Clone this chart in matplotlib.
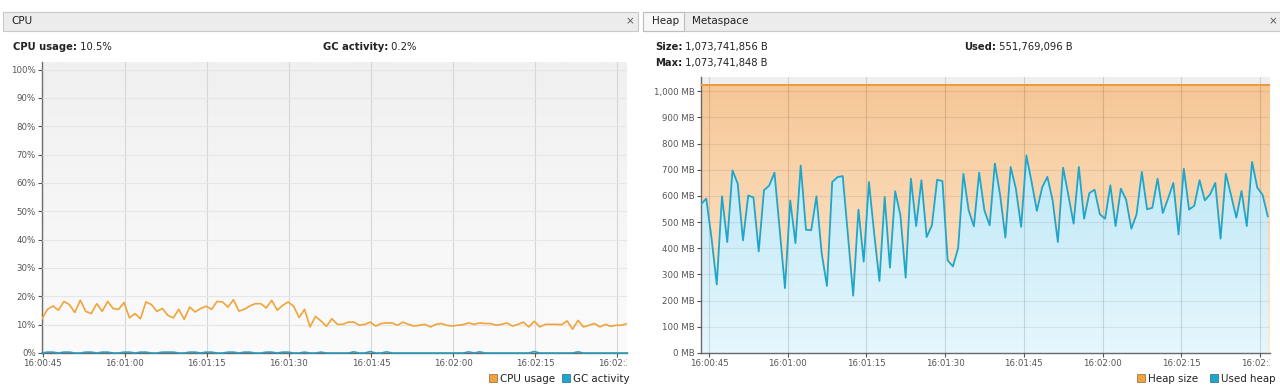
import numpy as np
import matplotlib
matplotlib.use('Agg')
import matplotlib.pyplot as plt
from matplotlib.colors import LinearSegmentedColormap
from matplotlib.patches import Rectangle
from matplotlib.ticker import FixedLocator, FuncFormatter
from matplotlib.transforms import Bbox, TransformedBbox

cpu_start = 44.87      # segundos depois de 16:00:00
heap_start = 43.48

cpu_usage = [
    12.1, 15.4, 16.6, 15.1, 18.2, 17.1, 14.3, 18.6, 14.7, 13.9,
    17.4, 14.7, 18.2, 15.7, 15.4, 17.8, 12.4, 13.9, 12.1, 18.0,
    17.1, 14.7, 15.7, 13.3, 12.4, 15.4, 11.9, 16.2, 14.5, 15.7,
    16.5, 15.4, 18.2, 18.0, 16.2, 18.8, 14.8, 15.4, 16.6, 17.4,
    17.4, 15.9, 18.6, 15.1, 16.8, 18.0, 16.5, 12.5, 15.4, 9.2,
    12.9, 11.3, 9.4, 12.1, 10.1,
    10.1, 10.9, 10.9, 9.8, 10.1, 10.9, 9.5, 10.4, 10.6, 10.6,
    9.8, 10.9, 10.1, 9.5, 9.8, 10.1, 9.2, 10.1, 10.4, 9.8,
    9.5, 9.8, 10.0, 10.6, 10.1, 10.6, 10.4, 10.4, 9.8, 10.1,
    10.6, 9.5, 10.1, 10.9, 9.2, 11.2, 9.2, 10.1, 10.1, 10.1,
    10.0, 11.3, 8.4, 11.5, 9.2, 9.8, 10.4, 9.2, 10.1, 9.4,
    9.8, 9.8, 10.4,
]
gc_activity = [
    0.0, 0.3, 0.3, 0.0, 0.3, 0.3, 0.0, 0.0, 0.3, 0.3,
    0.0, 0.3, 0.3, 0.0, 0.0, 0.3, 0.3, 0.0, 0.3, 0.3,
    0.0, 0.0, 0.3, 0.3, 0.3, 0.0, 0.0, 0.3, 0.3, 0.0,
    0.3, 0.3, 0.0, 0.0, 0.3, 0.3, 0.0, 0.3, 0.3, 0.0,
    0.0, 0.3, 0.3, 0.0, 0.3, 0.3, 0.0, 0.0, 0.3, 0.0,
    0.0, 0.3, 0.0, 0.0, 0.0, 0.0, 0.0, 0.4, 0.0, 0.0,
    0.5, 0.0, 0.0, 0.4, 0.0, 0.0, 0.0, 0.0, 0.0, 0.0,
    0.0, 0.0, 0.0, 0.0, 0.0, 0.0, 0.0, 0.0, 0.4, 0.0,
    0.4, 0.0, 0.0, 0.0, 0.0, 0.0, 0.0, 0.0, 0.0, 0.0,
    0.5, 0.0, 0.0, 0.0, 0.0, 0.0, 0.0, 0.0, 0.4, 0.0,
    0.0, 0.0, 0.0, 0.0, 0.0, 0.0, 0.0, 0.0,
]
used_heap_mb = [
    568, 590, 440, 262, 599, 424, 698, 647, 430, 602,
    594, 388, 622, 640, 689, 470, 248, 583, 420, 716,
    471, 469, 599, 380, 256, 653, 672, 676, 450, 219,
    548, 349, 653, 456, 275, 596, 326, 618, 526, 288,
    666, 485, 660, 443, 488, 662, 657, 354, 331, 401,
    685, 545, 484, 689, 545, 488, 724, 603, 441, 711,
    628, 482, 755, 653, 543, 632, 673, 583, 424, 708,
    603, 494, 711, 513, 611, 624, 530, 513, 641, 485,
    628, 586, 475, 530, 692, 549, 555, 666, 535, 590,
    650, 453, 704, 548, 563, 660, 583, 606, 650, 437,
    685, 603, 517, 619, 485, 730, 632, 605, 522,
]
heap_size_mb = [1024.0] * len(used_heap_mb)

x_ticks = [45, 60, 75, 90, 105, 120, 135, 150]
cpu_y_ticks = [0, 10, 20, 30, 40, 50, 60, 70, 80, 90, 100]
heap_y_ticks = [0, 100, 200, 300, 400, 500, 600, 700, 800, 900, 1000]

ORANGE = '#f0a43a'
BLUE = '#1fa6cc'
TXT = '#222222'
TICK = '#555555'

W, H = 1280, 391
plt.rcParams['font.family'] = ['DejaVu Sans']
fig = plt.figure(figsize=(W / 100, H / 100), dpi=100, facecolor='white')


def rect(x0, y0, x1, y1):
    return [x0 / W, 1 - y1 / H, (x1 - x0) / W, (y1 - y0) / H]


def fmt_time(x, pos=None):
    m, s = divmod(int(round(x)), 60)
    return f'16:{m:02d}:{s:02d}'


# camada de fundo em pixels (cabeçalhos, textos, legendas)
bg = fig.add_axes([0, 0, 1, 1], zorder=-1)
bg.set_xlim(0, W)
bg.set_ylim(H, 0)
bg.axis('off')

bg.add_patch(Rectangle((3, 12), 635, 19, fc='#ececec', ec='#c8c8c8', lw=0.8))
bg.add_patch(Rectangle((643, 12), 637, 19, fc='#ececec', ec='#c8c8c8', lw=0.8))
bg.add_patch(Rectangle((643, 12), 41, 19, fc='#f7f7f7', ec='#bdbdbd', lw=0.8))
bg.text(11, 21.5, 'CPU', fontsize=7.5, color=TXT, va='center')
bg.text(630, 21.5, '×', fontsize=7.5, color='#555555', va='center', ha='center')
bg.text(652, 21.5, 'Heap', fontsize=7.5, color=TXT, va='center')
bg.text(692, 21.5, 'Metaspace', fontsize=7.5, color=TXT, va='center')
bg.text(1273, 21.5, '×', fontsize=7.5, color='#555555', va='center', ha='center')


def stat(x, y, label, value):
    t = bg.text(x, y, label, fontsize=7.2, fontweight='bold', color=TXT, va='center')
    bg.annotate(' ' + value, xy=(1, 0.5), xycoords=t, va='center', ha='left',
                fontsize=7.2, color=TXT)


stat(13, 47, 'CPU usage:', '10.5%')
stat(323, 47, 'GC activity:', '0.2%')
stat(655, 47, 'Size:', '1,073,741,856 B')
stat(655, 63, 'Max:', '1,073,741,848 B')
stat(964, 47, 'Used:', '551,769,096 B')


def legend_item(x, label, color):
    bg.add_patch(Rectangle((x, 374), 8, 8, fc=color, ec='#9a7a50' if color == ORANGE else '#3a7a90', lw=0.6))
    bg.text(x + 11, 378.5, label, fontsize=7.4, color=TXT, va='center')


legend_item(489, 'CPU usage', ORANGE)
legend_item(562, 'GC activity', BLUE)
legend_item(1137, 'Heap size', ORANGE)
legend_item(1210, 'Used heap', BLUE)


def style_axis(ax, grid_v, alpha_v, grid_h, alpha_h):
    for s in ['top', 'right']:
        ax.spines[s].set_visible(False)
    for s in ['left', 'bottom']:
        ax.spines[s].set_color('#6a6a6a')
        ax.spines[s].set_linewidth(1.0)
    ax.tick_params(labelsize=6.2, colors=TICK, length=3, width=0.8, pad=1.5)
    ax.xaxis.set_major_locator(FixedLocator(x_ticks))
    ax.xaxis.set_major_formatter(FuncFormatter(fmt_time))
    ax.set_axisbelow(False)
    ax.grid(axis='x', color=grid_v, alpha=alpha_v, lw=0.8, zorder=1.5)
    ax.grid(axis='y', color=grid_h, alpha=alpha_h, lw=0.8, zorder=1.5)


# --- CPU ---
ax1 = fig.add_axes(rect(42, 62, 627, 353))
cpu_t = cpu_start + np.arange(len(cpu_usage))
grad = np.linspace(0, 1, 256).reshape(-1, 1)
ax1.imshow(grad, cmap=LinearSegmentedColormap.from_list('g', ['#fbfbfb', '#f0f0f0']),
           extent=[0, 1, 0, 1], transform=ax1.transAxes, aspect='auto', origin='lower', zorder=0)
ax1.plot(cpu_t, gc_activity, color='#2f9cba', lw=1.2, zorder=3, clip_on=False)
ax1.plot(cpu_t, cpu_usage, color=ORANGE, lw=1.2, zorder=3)
ax1.set_xlim(cpu_start, cpu_start + (627 - 42) / 5.47)
ax1.set_ylim(0, (353 - 62) / 2.834)
ax1.yaxis.set_major_locator(FixedLocator(cpu_y_ticks))
ax1.yaxis.set_major_formatter(FuncFormatter(lambda v, p: f'{int(v)}%'))
style_axis(ax1, '#d6d6d6', 1.0, '#e6e6e6', 1.0)

# --- Heap ---
ax2 = fig.add_axes(rect(701, 77, 1270, 353))
ax2.set_facecolor('#efefef')
heap_t = heap_start + np.arange(len(used_heap_mb))
t_end = heap_start + (1270 - 701) / 5.248
ax2.imshow(grad, cmap=LinearSegmentedColormap.from_list('o', ['#feecd8', '#f6c795']),
           extent=[heap_start, t_end, 0, heap_size_mb[0]], aspect='auto', origin='lower', zorder=0)
im_blue = ax2.imshow(grad, cmap=LinearSegmentedColormap.from_list('b', ['#e6f7fd', '#b0e2f4']),
                     extent=[heap_start, t_end, 0, heap_size_mb[0]], aspect='auto', origin='lower', zorder=0.5)
area = ax2.fill_between(heap_t, 0, used_heap_mb, facecolor='none', edgecolor='none')
im_blue.set_clip_path(area.get_paths()[0], transform=ax2.transData)
ax2.plot([heap_start, t_end], [heap_size_mb[0], heap_size_mb[-1]], color='#f0983a', lw=1.4, zorder=3)
ax2.plot(heap_t, used_heap_mb, color=BLUE, lw=1.3, zorder=3)
ax2.set_xlim(heap_start, t_end)
ax2.set_ylim(0, (353 - 77) / 0.2617)
ax2.yaxis.set_major_locator(FixedLocator(heap_y_ticks))
ax2.yaxis.set_major_formatter(FuncFormatter(lambda v, p: f'{int(v):,} MB'))
style_axis(ax2, 'black', 0.13, 'black', 0.07)

# rótulos do eixo X cortados na borda direita, como no original
fig.canvas.draw()
for ax in (ax1, ax2):
    box = TransformedBbox(Bbox([[-0.2, -0.5], [1.0, 1.0]]), ax.transAxes)
    for tick in ax.xaxis.get_major_ticks():
        tick.label1.set_clip_box(box)
        tick.label1.set_clip_on(True)

fig.savefig('out.png', dpi=100, facecolor='white')
